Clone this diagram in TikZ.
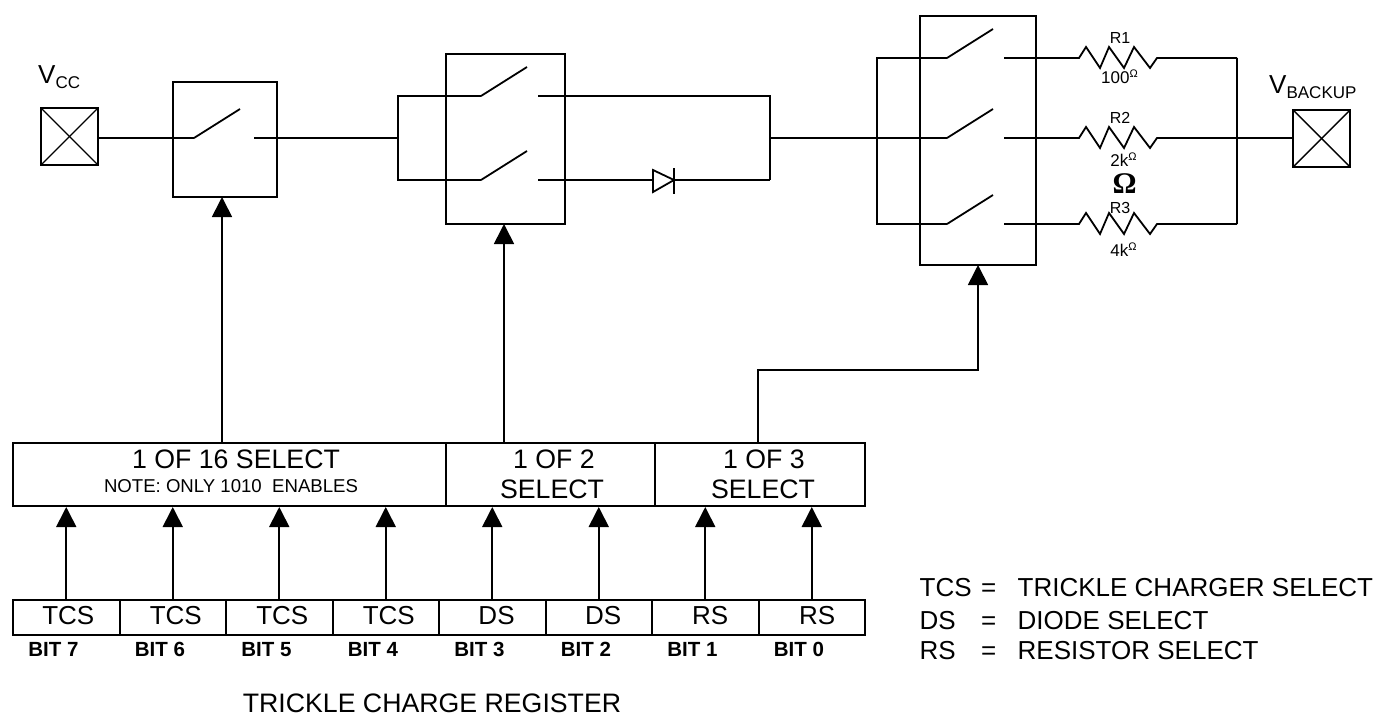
\documentclass[tikz,border=0pt]{standalone}
\usepackage{fontspec}
\setmainfont{Liberation Sans}
\newfontfamily\omegafont{Liberation Serif}
\usetikzlibrary{arrows.meta}
\tikzset{
  wire/.style={line width=1.8pt},
  arr/.style={line width=1.7pt,-{Triangle[width=20pt,length=20pt]}},
  cellbox/.style={draw,line width=2pt,inner sep=0pt,outer sep=0pt},
  lbl/.style={inner sep=0pt,anchor=base,font=\fontsize{26}{26}\selectfont},
  sellbl/.style={lbl,font=\fontsize{26.7}{26.7}\selectfont},
  reslbl/.style={lbl,font=\fontsize{16}{16}\selectfont},
  vallbl/.style={lbl,font=\fontsize{17}{17}\selectfont},
  bitlbl/.style={lbl,font=\fontsize{20.5}{20.5}\selectfont\bfseries}
}
\newcommand{\lowtext}[1]{\raisebox{-5pt}{\fontsize{17}{17}\selectfont #1}}
\newcommand{\uptext}[1]{\raisebox{6pt}{\fontsize{11}{11}\selectfont #1}}
\begin{document}
\begin{tikzpicture}[x=1pt,y=-1pt]
    \useasboundingbox (0,0) rectangle (1383,715);
    % supply pads
    \node[cellbox,minimum size=57pt] (vcc) at (69.5,136.5) {};
    \node[cellbox,minimum size=57pt] (vbak) at (1321.5,138.5) {};
    \foreach \p in {vcc,vbak} {
      \draw [line width=1.4pt](\p.north west) -- (\p.south east);
      \draw [line width=1.4pt](\p.south west) -- (\p.north east);
    }
    \node[lbl,anchor=base west] (vcclbl) at (38,83) {V\lowtext{CC}};
    \node[lbl,anchor=base west] (vbaklbl) at (1269,93) {V\lowtext{BACKUP}};
    % switch boxes
    \node[cellbox,minimum width=104pt,minimum height=115pt] (tcsbox) at (225,139.5) {};
    \node[cellbox,minimum width=119pt,minimum height=170pt] (dsbox) at (505.5,139) {};
    \node[cellbox,minimum width=116pt,minimum height=249pt] (rsbox) at (978,140.5) {};
    % switches: name/left x/y/gap to right contact
    \foreach \n/\x/\y/\g in {sa/194/138/60,sb/481/96/57,sc/481/180/57,sd/947/58/57,se/947/138/57,sf/947/224/57} {
      \coordinate (\n l) at (\x,\y);
      \coordinate (\n t) at (\x+46,\y-29);
      \coordinate (\n r) at (\x+\g,\y);
      \draw [wire](\n l) -- (\n t);
    }
    % junctions
    \coordinate (busa) at (398,138);
    \coordinate (busat) at (398,96);
    \coordinate (busab) at (398,180);
    \coordinate (busb) at (770,138);
    \coordinate (busbt) at (770,96);
    \coordinate (busbb) at (770,180);
    \coordinate (busc) at (877,138);
    \coordinate (busct) at (877,58);
    \coordinate (buscb) at (877,224);
    \coordinate (busd) at (1237,138);
    \coordinate (busdt) at (1237,58);
    \coordinate (busdb) at (1237,224);
    \draw [wire](vcc.east |- sal) -- (sal);
    \draw [wire](sar) -- (busa);
    \draw [wire](sbl) -- (busat) -- (busab) -- (scl);
    \draw [wire](sbr) -- (busbt) -- (busbb);
    \draw [wire](busb) -- (busc);
    \draw [wire](sdl) -- (busct) -- (buscb) -- (sfl);
    \draw [wire](busc) -- (sel);
    \draw [wire](busdt) -- (busdb);
    \draw [wire](busd) -- (vbak.west |- busd);
    % diode
    \coordinate (dioa) at (653,180);
    \coordinate (dioc) at (674,180);
    \draw [wire](scr) -- (dioa);
    \draw [wire](dioa) -- ++(0,-10) -- (dioc) -- (653,192) -- cycle;
    \draw [wire](674,168) -- (674,194);
    \draw [wire](dioc) -- (busbb);
    % resistors
    \foreach \n/\s/\y in {sd/a/58,se/b/138,sf/c/224} {
      \coordinate (res\s l) at (1079,\y);
      \coordinate (res\s r) at (1157,\y);
      \draw [wire](\n r) -- (res\s l) -- ++(7,-11) -- ++(14,21) -- ++(9,-21)
        -- ++(15,21) -- ++(10,-21) -- ++(16,21) -- (res\s r) -- (busd |- res\s r);
    }
    \node[reslbl] (rone) at (1120,43) {R1};
    \node[reslbl] (rtwo) at (1120,123) {R2};
    \node[reslbl] (rthree) at (1120,213) {R3};
    \node[vallbl] (vone) at (1119.5,83) {100\uptext{Ω}};
    \node[vallbl] (vtwo) at (1123.5,166) {2k\uptext{Ω}};
    \node[vallbl] (vthree) at (1123.5,256) {4k\uptext{Ω}};
    \node[lbl,font=\fontsize{30}{30}\selectfont\omegafont\bfseries] (omega) at (1124.5,193) {Ω};
    % select row
    \node[cellbox,minimum width=432.5pt,minimum height=63pt] (selt) at (229.25,474.5) {};
    \node[cellbox,minimum width=209.5pt,minimum height=63pt] (seld) at (550.25,474.5) {};
    \node[cellbox,minimum width=210pt,minimum height=63pt] (selr) at (760,474.5) {};
    \node[sellbl] (tline) at (236,468) {1 OF 16 SELECT};
    \node[lbl,font=\fontsize{18.6}{18.6}\selectfont] (note) at (231,492) {NOTE: ONLY 1010\ \ ENABLES};
    \node[sellbl] (dline) at (554,468) {1 OF 2};
    \node[sellbl] (dsel) at (552,498) {SELECT};
    \node[sellbl] (rline) at (764,468) {1 OF 3};
    \node[sellbl] (rsel) at (763,498) {SELECT};
    % register row
    \foreach \i/\t/\o in {7/TCS/2,6/TCS/3,5/TCS/3,4/TCS/3,3/DS/4.3,2/DS/4.5,1/RS/5,0/RS/5.5} {
      \pgfmathsetmacro{\x}{66.25+106.5*(7-\i)}
      \node[cellbox,minimum width=106.5pt,minimum height=35pt] (reg\i) at (\x,617.5) {};
      \node[lbl] (reglbl\i) at (\x+\o,624) {\t};
      \node[bitlbl] (bit\i) at (\x-12.8,656) {BIT \i};
      \draw [arr,xshift=-1pt](reg\i.north) -- ([yshift=-1pt]reg\i.north |- selt.south);
    }
    \node[sellbl] (regname) at (432,712) {TRICKLE CHARGE REGISTER};
    % control lines
    \coordinate (tapa) at (222,443);
    \coordinate (tapb) at (504,443);
    \coordinate (tapc) at (758,443);
    \coordinate (tapd) at (758,370);
    \draw [arr](tapa) -- (tapa |- tcsbox.south);
    \draw [arr](tapb) -- (tapb |- dsbox.south);
    \draw [arr](tapc) -- (tapd) -- (tapd -| rsbox.south) -- (rsbox.south);
    % legend
    \foreach \n/\a/\b/\y in {tcs/TCS/TRICKLE CHARGER SELECT/596,ds/DS/DIODE SELECT/629,rs/RS/RESISTOR SELECT/659} {
      \node[lbl,anchor=base west] (\n key) at (919.5,\y) {\a};
      \node[lbl,anchor=base west] (\n eq) at (981,\y) {=};
      \node[lbl,anchor=base west] (\n txt) at (1017.5,\y) {\b};
    }
\end{tikzpicture}
\end{document}
